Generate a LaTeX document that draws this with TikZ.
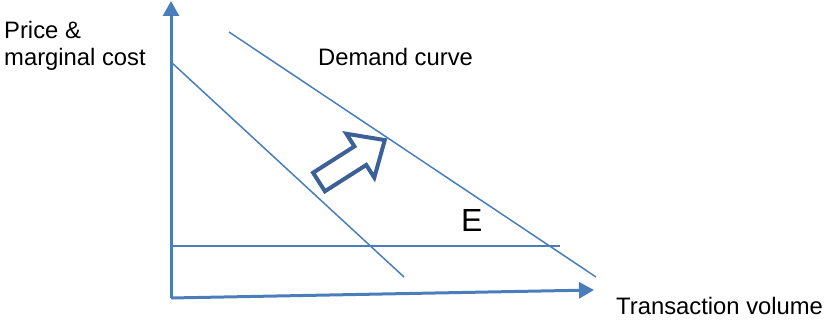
\documentclass[tikz,border=0pt]{standalone}
\usepackage{fontspec}
\setmainfont{Liberation Sans}
\definecolor{ChartBlue}{HTML}{4A7EBB}
\definecolor{ChartNavy}{HTML}{3D6196}
\definecolor{ChartBlack}{HTML}{000000}
\usepackage{tikz}
\usetikzlibrary{arrows.meta, positioning, calc}
\tikzset{
    % Axis style
    axis/.style={
        -{Triangle[length=15pt, width=16pt]},
        line width=3pt,
        color=ChartBlue
    },
    % Straight curve style
    curve/.style={
        line width=1.5pt,
        color=ChartBlue
    },
    % Hollow shift arrow
    shiftarrow/.style={
        draw=ChartNavy,
        fill=white,
        line width=4pt,
        line join=miter
    },
    % Text label
    label/.style={
        inner sep=0pt,
        text=ChartBlack,
        font=\fontsize{23.8}{27}\selectfont
    }
}
\begin{document}
\begin{tikzpicture}[x=1pt, y=1pt]
        \useasboundingbox (0,0) rectangle (824,321);

        % Axes
        \coordinate (origin) at (171,23);
        \coordinate (ytip) at (171,320);
        \coordinate (xtip) at (594,31);
        \draw [axis] (origin) -- (ytip);
        \draw [axis] (origin) -- (xtip);

        % Marginal cost and demand lines
        \coordinate (mc top) at (171,259);
        \coordinate (mc end) at (404,44);
        \coordinate (dem top) at (229,289);
        \coordinate (dem end) at (596,44);
        \coordinate (flat start) at (171,75);
        \coordinate (flat end) at (560,75);
        \draw [curve] (mc top) -- (mc end);
        \draw [curve] (dem top) -- (dem end);
        \draw [curve] (flat start) -- (flat end);

        % Shift arrow
        \coordinate (shift tail) at (319,139);
        \draw [shiftarrow, shift={(shift tail)}, rotate=32.5]
            (0,-11) -- (49,-11) -- (49,-26) -- (78,0) -- (49,26) -- (49,11) -- (0,11) -- cycle;

        % Labels
        \node (ylabel) [label, anchor=north west, align=left] at (4,300) {Price \&\\marginal cost};
        \node (demand) [label, anchor=base west] at (318,255) {Demand curve};
        \node (eq) [label, anchor=base west, font=\fontsize{32}{36}\selectfont] at (461,89) {E};
        \node (xlabel) [label, anchor=base west] at (616,6) {Transaction volume};
    \end{tikzpicture}
\end{document}
